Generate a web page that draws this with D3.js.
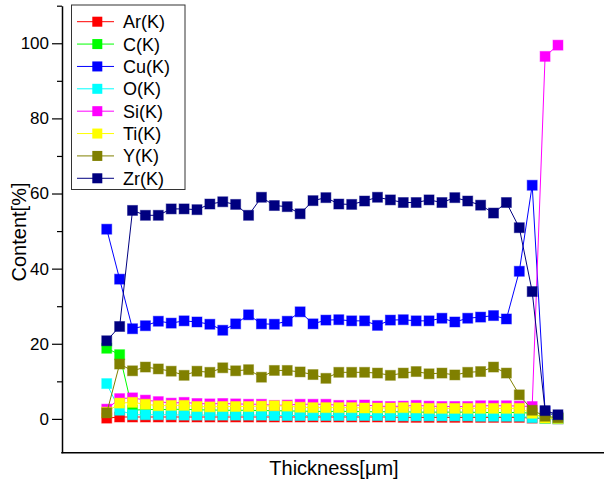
<meta charset="utf-8" />

<!--d3.js -->
<script src="https://d3js.org/d3.v7.min.js"></script>

<style>
  body {
    margin: 0;
    background: #fff;
  }
  svg text {
    font-family: "Liberation Sans", Arial, sans-serif;
    fill: #000;
  }
  .axis path,
  .axis line {
    stroke: #000;
  }
</style>

<svg width="606" height="485"></svg>

<script>
  // measurement points along the thickness (no tick labels in the original)
  var thickness = [0, 1, 2, 3, 4, 5, 6, 7, 8, 9, 10, 11, 12, 13, 14, 15, 16, 17,
    18, 19, 20, 21, 22, 23, 24, 25, 26, 27, 28, 29, 30, 31, 32, 33, 34, 35];

  var elements = ["Ar(K)", "C(K)", "Cu(K)", "O(K)", "Si(K)", "Ti(K)", "Y(K)", "Zr(K)"];
  var colors = ["#ff0000", "#00ff00", "#0000ff", "#00ffff", "#ff00ff", "#ffff00", "#808000", "#000080"];

  var ar = [0.2, 0.5, 0.5, 0.5, 0.5, 0.5, 0.5, 0.5, 0.5, 0.5, 0.5, 0.5, 0.5, 0.5, 0.5, 0.5, 0.5, 0.5,
    0.5, 0.5, 0.5, 0.5, 0.5, 0.4, 0.4, 0.4, 0.4, 0.4, 0.4, 0.4, 0.4, 0.4, 0.4, 0.2, 0.1, 0.0];
  var c = [18.8, 17.1, 2.3, 2.5, 2.5, 2.5, 2.6, 2.4, 2.4, 2.3, 2.3, 2.3, 2.2, 2.2, 2.1, 2.1, 2.0, 2.0,
    2.0, 2.0, 1.9, 1.9, 1.9, 1.9, 1.8, 1.8, 1.8, 1.8, 1.8, 1.7, 1.7, 1.7, 1.7, 1.5, 0.2, 0.1];
  var cu = [50.5, 37.2, 24.0, 24.8, 26.0, 25.5, 26.1, 25.8, 25.2, 23.6, 25.3, 27.7, 25.3, 25.2, 26.0, 28.5, 25.3, 26.3,
    26.4, 26.1, 26.1, 24.9, 26.3, 26.4, 26.1, 26.1, 26.8, 25.8, 26.8, 27.1, 27.5, 26.6, 39.3, 62.2, 2.0, 0.5];
  var o = [9.4, 2.3, 1.1, 1.1, 1.1, 1.1, 1.0, 1.0, 1.0, 1.0, 1.0, 1.0, 1.0, 0.9, 0.9, 0.9, 0.9, 0.9,
    0.9, 0.9, 0.9, 0.9, 0.9, 0.8, 0.8, 0.8, 0.8, 0.8, 0.8, 0.7, 0.7, 0.7, 0.7, 0.3, 0.1, 0.0];
  var si = [2.6, 5.4, 5.6, 5.0, 4.6, 4.2, 4.4, 4.1, 4.0, 4.1, 4.0, 3.9, 3.9, 3.6, 3.7, 3.9, 3.9, 3.9,
    3.6, 3.6, 3.7, 3.4, 3.3, 3.4, 3.6, 3.4, 3.3, 3.3, 3.3, 3.5, 3.5, 3.5, 3.4, 3.3, 96.5, 99.5];
  var ti = [1.8, 4.2, 4.4, 3.9, 3.5, 3.6, 3.6, 3.3, 3.2, 3.3, 3.3, 3.3, 3.4, 3.5, 3.4, 3.1, 3.0, 3.0,
    3.0, 3.0, 2.9, 2.9, 2.9, 3.0, 2.9, 2.8, 2.8, 2.8, 2.8, 2.8, 2.8, 2.8, 2.8, 1.5, 0.2, 0.1];
  var y_k = [1.6, 14.6, 12.8, 13.8, 13.3, 12.7, 11.6, 12.7, 12.4, 13.6, 12.8, 13.1, 11.1, 12.9, 12.9, 12.5, 11.8, 10.8,
    12.4, 12.4, 12.4, 12.2, 11.6, 12.2, 12.6, 12.0, 12.2, 11.7, 12.4, 12.6, 13.8, 12.2, 6.4, 2.3, 0.7, 0.3];
  var zr = [20.8, 24.6, 55.5, 54.2, 54.2, 55.9, 55.9, 55.7, 57.2, 57.8, 57.1, 54.2, 59.0, 56.8, 56.5, 54.6, 58.1, 58.9,
    57.2, 57.1, 58.0, 59.0, 58.3, 57.6, 57.6, 58.3, 57.6, 58.9, 58.0, 56.9, 54.8, 57.6, 50.9, 33.9, 2.2, 1.1];

  var yMajor = [0, 20, 40, 60, 80, 100];
  var yMinor = [10, 30, 50, 70, 90, 110];

  var seriesValues = [ar, c, cu, o, si, ti, y_k, zr];

  var series = elements.map(function (name, k) {
    return {
      name: name,
      color: colors[k],
      values: thickness.map(function (t, i) {
        return { t: t, v: seriesValues[k][i] };
      }),
    };
  });

  var svg = d3.select("svg"),
    plotLeft = 62,
    plotRight = 604,
    plotTop = 5.7,
    plotBottom = 452.7;

  var x = d3.scaleLinear().domain([-3.47, 38.57]).range([plotLeft, plotRight]);
  var y = d3.scaleLinear().domain([-9, 110]).range([plotBottom, plotTop]);

  // y axis: major ticks with labels, minor ticks without
  svg.append("g")
    .attr("class", "axis")
    .attr("transform", "translate(" + plotLeft + ",0)")
    .call(d3.axisLeft(y).tickValues(yMinor).tickSize(5).tickFormat(""))
    .call(function (g) { g.select(".domain").remove(); })
    .selectAll("line").attr("stroke-width", 1.2);

  var yAxis = svg.append("g")
    .attr("class", "axis")
    .attr("transform", "translate(" + plotLeft + ",0)")
    .call(d3.axisLeft(y).tickValues(yMajor).tickSize(10).tickSizeOuter(0).tickPadding(3));
  yAxis.select(".domain").attr("stroke-width", 1.5);
  yAxis.selectAll("line").attr("stroke-width", 1.2);
  yAxis.selectAll("text").style("font-size", "17px");

  // bottom axis line only
  svg.append("line")
    .attr("x1", plotLeft - 0.75)
    .attr("x2", plotRight)
    .attr("y1", plotBottom)
    .attr("y2", plotBottom)
    .attr("stroke", "#000")
    .attr("stroke-width", 1.5);

  var line = d3.line()
    .x(function (d) { return x(d.t); })
    .y(function (d) { return y(d.v); });

  var ms = 10;

  series.forEach(function (s) {
    var g = svg.append("g");
    g.append("path")
      .datum(s.values)
      .attr("fill", "none")
      .attr("stroke", s.color)
      .attr("stroke-width", 1)
      .attr("d", line);
    g.selectAll("rect")
      .data(s.values)
      .enter()
      .append("rect")
      .attr("x", function (d) { return x(d.t) - ms / 2; })
      .attr("y", function (d) { return y(d.v) - ms / 2; })
      .attr("width", ms)
      .attr("height", ms)
      .attr("fill", s.color)
      .attr("stroke", s.color)
      .attr("stroke-opacity", 0.45)
      .attr("stroke-width", 1);
  });

  // axis titles
  svg.append("text")
    .attr("transform", "translate(26,232) rotate(-90)")
    .attr("text-anchor", "middle")
    .style("font-size", "20px")
    .text("Content[%]");

  svg.append("text")
    .attr("x", 334)
    .attr("y", 475)
    .attr("text-anchor", "middle")
    .style("font-size", "20px")
    .text("Thickness[\u03bcm]");

  // legend
  var legend = svg.append("g");
  legend.append("rect")
    .attr("x", 71.5)
    .attr("y", 5)
    .attr("width", 113.5)
    .attr("height", 184.5)
    .attr("fill", "#fff")
    .attr("stroke", "#333")
    .attr("stroke-width", 1);

  var item = legend.selectAll(".item")
    .data(series)
    .enter()
    .append("g")
    .attr("class", "item")
    .attr("transform", function (d, i) {
      return "translate(0," + (21.7 + i * 22.37) + ")";
    });
  item.append("line")
    .attr("x1", 77)
    .attr("x2", 114)
    .attr("stroke", function (d) { return d.color; })
    .attr("stroke-width", 1);
  item.append("rect")
    .attr("x", 97.3 - ms / 2)
    .attr("y", -ms / 2)
    .attr("width", ms)
    .attr("height", ms)
    .attr("fill", function (d) { return d.color; });
  item.append("text")
    .attr("x", 123)
    .attr("dy", "0.36em")
    .style("font-size", "18px")
    .text(function (d) { return d.name; });
</script>
